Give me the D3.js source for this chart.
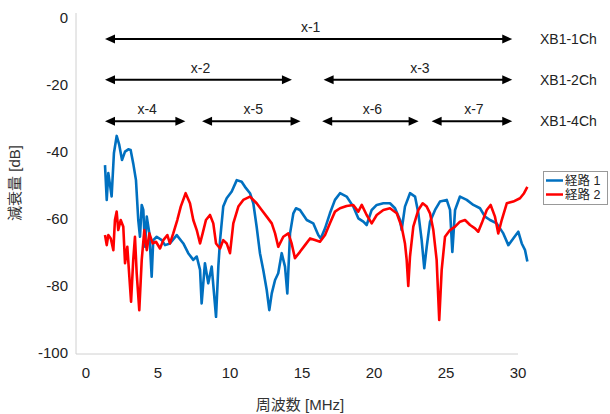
<!DOCTYPE html>
<html>
<head>
<meta charset="utf-8">
<script src="https://cdn.jsdelivr.net/npm/d3@7"></script>
<style>
  body { margin: 0; background: #fff; }
  svg { font-family: "Liberation Sans", Arial, "Noto Sans CJK JP", sans-serif; }
</style>
</head>
<body>
<svg id="chart" width="610" height="414"></svg>
<script>
// 経路 1 (blue) : [MHz, dB]
const path1 = [
  [1.32,-43.9],[1.44,-54.3],[1.55,-46.3],[1.67,-49.9],[1.78,-53.3],[1.94,-40.3],[2.13,-35.2],
  [2.31,-37.9],[2.50,-42.4],[2.71,-39.9],[2.94,-39.2],[3.10,-39.4],[3.28,-43.4],[3.47,-48.4],
  [3.63,-60.3],[3.75,-65.3],[3.87,-55.8],[3.98,-57.3],[4.10,-68.3],[4.22,-59.3],[4.40,-64.3],
  [4.56,-77.2],[4.67,-66.3],[4.91,-65.3],[5.26,-66.3],[5.49,-67.8],[5.83,-67.3],[6.30,-64.8],
  [6.76,-67.3],[7.10,-70.2],[7.45,-72.2],[7.69,-71.2],[7.92,-75.2],[8.03,-85.2],[8.26,-73.2],
  [8.49,-79.2],[8.73,-74.2],[9.03,-89.2],[9.19,-74.2],[9.31,-66.3],[9.53,-56.3],[9.77,-53.8],
  [10.12,-51.8],[10.47,-48.4],[10.81,-48.9],[11.04,-50.4],[11.39,-52.3],[11.62,-55.3],
  [11.85,-62.3],[12.08,-70.2],[12.31,-75.2],[12.55,-81.2],[12.73,-87.2],[12.90,-82.2],
  [13.13,-78.2],[13.35,-76.2],[13.59,-70.2],[13.82,-74.2],[13.98,-82.2],[14.17,-64.3],
  [14.40,-58.3],[14.58,-56.8],[14.86,-57.3],[15.33,-60.3],[15.78,-61.3],[16.13,-64.8],
  [16.30,-65.8],[16.60,-62.8],[16.94,-58.3],[17.29,-54.3],[17.64,-52.3],[18.10,-53.3],
  [18.56,-56.3],[18.91,-59.8],[19.26,-60.8],[19.49,-61.8],[19.84,-57.3],[20.19,-55.8],
  [20.65,-55.3],[21.11,-55.3],[21.46,-56.8],[21.81,-60.3],[21.92,-63.3],[22.15,-56.3],
  [22.50,-52.3],[22.85,-53.3],[23.08,-58.3],[23.31,-66.3],[23.49,-74.7],[23.66,-68.3],
  [23.89,-60.8],[24.24,-57.3],[24.58,-54.8],[25.05,-54.3],[25.28,-57.3],[25.44,-69.8],
  [25.63,-57.3],[25.97,-53.3],[26.44,-54.3],[26.90,-55.8],[27.36,-56.8],[27.71,-59.3],
  [28.06,-60.3],[28.52,-61.3],[28.98,-64.3],[29.33,-67.8],[29.67,-65.8],[30.02,-63.8],
  [30.26,-67.3],[30.49,-69.3],[30.65,-72.7]
];

// 経路 2 (red) : [MHz, dB]
const path2 = [
  [1.32,-64.8],[1.44,-67.8],[1.55,-64.8],[1.72,-65.8],[1.90,-69.3],[2.01,-60.3],[2.13,-57.8],
  [2.24,-63.3],[2.41,-60.3],[2.59,-62.3],[2.71,-73.2],[2.87,-68.3],[3.01,-77.2],[3.13,-84.7],
  [3.28,-72.2],[3.40,-65.3],[3.52,-76.2],[3.70,-87.2],[3.87,-72.2],[4.05,-63.3],[4.22,-69.3],
  [4.40,-64.3],[4.63,-67.3],[4.86,-66.8],[5.14,-68.8],[5.37,-66.3],[5.65,-64.8],[5.83,-67.3],
  [6.06,-64.3],[6.34,-60.3],[6.58,-56.3],[6.92,-52.3],[7.22,-55.3],[7.45,-60.3],[7.69,-63.3],
  [7.92,-67.3],[8.10,-64.3],[8.33,-60.3],[8.61,-58.8],[8.84,-61.3],[9.03,-67.3],[9.31,-68.8],
  [9.53,-66.3],[9.77,-67.3],[10.00,-70.2],[10.23,-61.3],[10.58,-56.3],[10.92,-54.3],
  [11.39,-53.3],[11.85,-55.3],[12.20,-57.3],[12.55,-59.3],[12.90,-61.3],[13.13,-64.3],
  [13.35,-68.3],[13.70,-65.3],[14.05,-64.3],[14.28,-67.3],[14.51,-71.7],[14.86,-69.8],
  [15.21,-67.8],[15.56,-65.8],[15.90,-66.3],[16.25,-66.8],[16.60,-64.8],[16.94,-61.3],
  [17.29,-57.8],[17.64,-56.8],[18.10,-56.1],[18.56,-55.8],[18.91,-57.8],[19.15,-55.8],
  [19.49,-58.8],[19.84,-61.3],[20.19,-58.8],[20.65,-57.3],[21.11,-56.8],[21.58,-58.3],
  [21.92,-62.3],[22.15,-67.3],[22.27,-72.2],[22.38,-80.0],[22.50,-71.2],[22.73,-62.3],
  [23.08,-57.3],[23.38,-55.3],[23.66,-56.3],[23.89,-58.3],[24.12,-63.3],[24.35,-72.2],
  [24.53,-90.1],[24.70,-75.2],[24.93,-65.3],[25.28,-63.3],[25.63,-62.3],[25.97,-60.8],
  [26.32,-60.3],[26.67,-61.8],[27.01,-62.8],[27.24,-63.8],[27.48,-61.3],[27.83,-57.3],
  [28.10,-55.8],[28.40,-59.3],[28.63,-64.3],[28.87,-60.3],[29.22,-55.3],[29.67,-54.8],
  [30.14,-53.8],[30.42,-52.3],[30.65,-50.4]
];

const seriesNames = ["経路 1", "経路 2"];
const seriesColors = ["#0070C0", "#FF0000"];

const xTicks = [0, 5, 10, 15, 20, 25, 30];
const yTicks = [0, -20, -40, -60, -80, -100];

// band arrows : label, start MHz, end MHz, row
const bandLabels = ["x-1", "x-2", "x-3", "x-4", "x-5", "x-6", "x-7"];
const bandStart  = [1.32, 1.32, 16.5, 1.32, 8.06, 16.4, 24.0];
const bandEnd    = [29.6, 14.3, 29.6, 6.9, 14.9, 23.1, 29.6];
const bandRow    = [0, 1, 1, 2, 2, 2, 2];
const rowNames   = ["XB1-1Ch", "XB1-2Ch", "XB1-4Ch"];
const rowLevel   = [-6.3, -18.4, -30.8];

const svg = d3.select("#chart");

const x = d3.scaleLinear().domain([0, 30]).range([86, 518]);
const y = d3.scaleLinear().domain([-100, 0]).range([353, 18]);

// axis lines
svg.append("line")
  .attr("x1", 76).attr("x2", 76).attr("y1", 13).attr("y2", 354)
  .attr("stroke", "#d0d0d0").attr("stroke-width", 1);
svg.append("line")
  .attr("x1", 76).attr("x2", 518).attr("y1", 354).attr("y2", 354)
  .attr("stroke", "#d0d0d0").attr("stroke-width", 1);

// tick labels
svg.append("g").selectAll("text")
  .data(yTicks)
  .join("text")
  .attr("x", 68)
  .attr("y", d => y(d))
  .attr("dy", "0.35em")
  .attr("text-anchor", "end")
  .attr("font-size", 15)
  .attr("fill", "#222")
  .text(d => d);

svg.append("g").selectAll("text")
  .data(xTicks)
  .join("text")
  .attr("x", d => x(d))
  .attr("y", 373)
  .attr("dy", "0.35em")
  .attr("text-anchor", "middle")
  .attr("font-size", 15)
  .attr("fill", "#222")
  .text(d => d);

// axis titles
svg.append("text")
  .attr("transform", "translate(20,183) rotate(-90)")
  .attr("text-anchor", "middle")
  .attr("font-size", 15)
  .attr("fill", "#333")
  .text("減衰量 [dB]");

svg.append("text")
  .attr("x", 300).attr("y", 405)
  .attr("dy", "0.35em")
  .attr("text-anchor", "middle")
  .attr("font-size", 15)
  .attr("fill", "#333")
  .text("周波数 [MHz]");

// data lines
const line = d3.line().x(d => x(d[0])).y(d => y(d[1]));
[path1, path2].forEach((s, i) => {
  svg.append("path")
    .datum(s)
    .attr("d", line)
    .attr("fill", "none")
    .attr("stroke", seriesColors[i])
    .attr("stroke-width", 2.6)
    .attr("stroke-linejoin", "round");
});

// band arrows
const head = (px, py, dir) => {
  const w = 10, h = 4.5;
  return `M${px},${py} L${px - dir * w},${py - h} L${px - dir * w},${py + h} Z`;
};
const bands = svg.append("g");
bandLabels.forEach((lab, i) => {
  const x0 = x(bandStart[i]), x1 = x(bandEnd[i]), yy = y(rowLevel[bandRow[i]]);
  bands.append("line")
    .attr("x1", x0 + 6).attr("x2", x1 - 6).attr("y1", yy).attr("y2", yy)
    .attr("stroke", "#000").attr("stroke-width", 2);
  bands.append("path").attr("d", head(x0, yy, -1)).attr("fill", "#000");
  bands.append("path").attr("d", head(x1, yy, 1)).attr("fill", "#000");
  bands.append("text")
    .attr("x", (x0 + x1) / 2 + 2)
    .attr("y", yy - 12)
    .attr("dy", "0.35em")
    .attr("text-anchor", "middle")
    .attr("font-size", 14)
    .attr("fill", "#222")
    .text(lab);
});

svg.append("g").selectAll("text")
  .data(rowNames)
  .join("text")
  .attr("x", 540)
  .attr("y", (d, i) => y(rowLevel[i]))
  .attr("dy", "0.35em")
  .attr("font-size", 14)
  .attr("fill", "#222")
  .text(d => d);

// legend
const legend = svg.append("g");
legend.append("rect")
  .attr("x", 543.5).attr("y", 171.5).attr("width", 64).attr("height", 33)
  .attr("fill", "#fff").attr("stroke", "#999").attr("stroke-width", 1);
seriesNames.forEach((n, i) => {
  const ly = 180.5 + i * 14;
  legend.append("line")
    .attr("x1", 546).attr("x2", 563).attr("y1", ly).attr("y2", ly)
    .attr("stroke", seriesColors[i]).attr("stroke-width", 2.5);
  legend.append("text")
    .attr("x", 565).attr("y", ly)
    .attr("dy", "0.35em")
    .attr("font-size", 12.5)
    .attr("fill", "#222")
    .text(n);
});
</script>
</body>
</html>
